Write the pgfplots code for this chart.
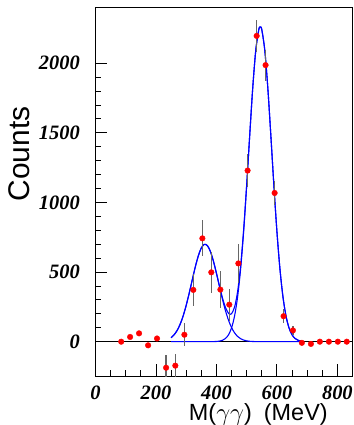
\documentclass[border=0pt]{standalone}
\usepackage{pgfplots}
\usepackage{pgfplotstable}
\pgfplotsset{compat=1.18}
\usepackage{fontspec}
\setmainfont{Liberation Serif}
\newfontfamily\labelfont{Liberation Sans}

% binned two-photon invariant mass spectrum: centre, counts, error
\pgfplotstableread{
x     y     e
85    0     15
114.5 34    15
144   60    15
174   -26   15
203.5 23    15
233.5 -187  90
264   -172  85
294   50    84
323.5 372   115
353.5 742   129
383   498   145
413   374   135
442.5 266   115
472.5 562   137
503   1229  120
533   2196  115
562.5 1986  112
592.5 1068  84
622   183   50
653   81    34
682.5 -8    0
712.5 -16   0
742   0     0
772   0     0
801.5 0     0
831   0     0
}\datapts

\begin{document}
\begin{tikzpicture}
\begin{axis}[
  scale only axis,
  width=257bp, height=369bp,
  xmin=0, xmax=850, ymin=-250, ymax=2400,
  axis line style={line width=1.3bp},
  tick pos=left, tick align=inside,
  xtick={0,200,...,800}, minor x tick num=3,
  ytick={0,500,...,2000}, minor y tick num=4,
  major tick length=12bp, minor tick length=6bp,
  every tick/.style={black, line width=0.9bp},
  /pgf/number format/assume math mode=true,
  /pgf/number format/1000 sep={},
  ticklabel style={font=\fontsize{20.5}{20.5}\selectfont\bfseries\itshape, inner sep=0pt},
  yticklabel style={anchor=east, xshift=-15.5bp},
  xticklabel style={anchor=north, yshift=-9bp},
  ylabel={\labelfont Counts},
  ylabel style={at={(rel axis cs:-0.2549,0.603)}, anchor=base,
    font=\fontsize{30}{30}\selectfont, inner sep=0pt},
  xlabel={\labelfont M($\gamma\gamma$)\hspace{12bp}(MeV)},
  xlabel style={at={(rel axis cs:0.363,-0.1179)}, anchor=base west,
    font=\fontsize{23.5}{23.5}\selectfont, inner sep=0pt},
  clip=true,
]
% zero line
\addplot[black, line width=1.4bp] coordinates {(0,0) (850,0)};

% fitted lower-mass Gaussian
\addplot[blue, line width=1.1bp, smooth] coordinates {
(250,28.7) (260,49.3) (270,80.7) (280,125.5) (290,185.6) (300,261.1)
(310,349.0) (320,443.6) (330,536.2) (340,616.0) (350,672.9) (360,698.9)
(370,690.1) (380,647.9) (390,578.3) (400,490.8) (410,396.0) (420,303.8)
(430,221.6) (440,153.6) (450,101.3) (460,63.5) (470,37.8) (480,21.4)
(490,11.6) (500,5.9) (510,2.9) (520,1.3) (530,0.6) (540,0.2)
(560,0) (600,0) (640,0) (680,0)};

% fitted main Gaussian
\addplot[blue, line width=1.1bp, smooth] coordinates {
(250,0) (300,0) (340,0) (370,0.1) (380,0.2) (390,0.6) (400,1.6)
(410,4.1) (420,10.1) (430,23.2) (440,49.7) (450,99.3) (460,185.2)
(470,322.3) (480,523.3) (490,792.9) (500,1121.0) (510,1478.7)
(520,1820.3) (530,2090.6) (540,2240.5) (545,2260) (550,2240.5)
(560,2090.6) (570,1820.3) (580,1478.7) (590,1121.0) (600,792.9)
(610,523.3) (620,322.3) (630,185.2) (640,99.3) (650,49.7)
(660,23.2) (670,10.1) (680,4.1)};

% sum of both components
\addplot[blue, line width=1.1bp, smooth] coordinates {
(250,28.7) (260,49.3) (270,80.7) (280,125.5) (290,185.6) (300,261.1)
(310,349.0) (320,443.6) (330,536.2) (340,616.0) (350,672.9) (360,698.9)
(370,690.2) (380,648.1) (390,578.9) (400,492.4) (410,400.1) (420,313.9)
(430,244.8) (440,203.3) (445,196.4) (450,200.6) (460,248.7) (470,360.1)
(480,544.7) (490,804.5) (500,1126.9) (510,1481.6) (520,1821.6)
(530,2091.2) (540,2240.7) (545,2260) (550,2240.6) (560,2090.6)
(570,1820.3) (580,1478.7) (590,1121.0) (600,792.9) (610,523.3)
(620,322.3) (630,185.2) (640,99.3) (650,49.7) (660,23.2)
(670,10.1) (680,4.1)};

% data with statistical errors
\addplot[only marks, mark=*, mark size=2.8bp,
  mark options={draw=red, fill=red},
  error bars/.cd, y dir=both, y explicit, error mark=none,
  error bar style={black!60, line width=1.3bp}]
  table[x=x, y=y, y error=e] {\datapts};
\end{axis}
\pgfresetboundingbox
\path[use as bounding box]
  ([xshift=-95.5bp,yshift=-48.5bp]current axis.south west)
  rectangle ([xshift=1.5bp,yshift=7.5bp]current axis.north east);
\end{tikzpicture}
\end{document}
